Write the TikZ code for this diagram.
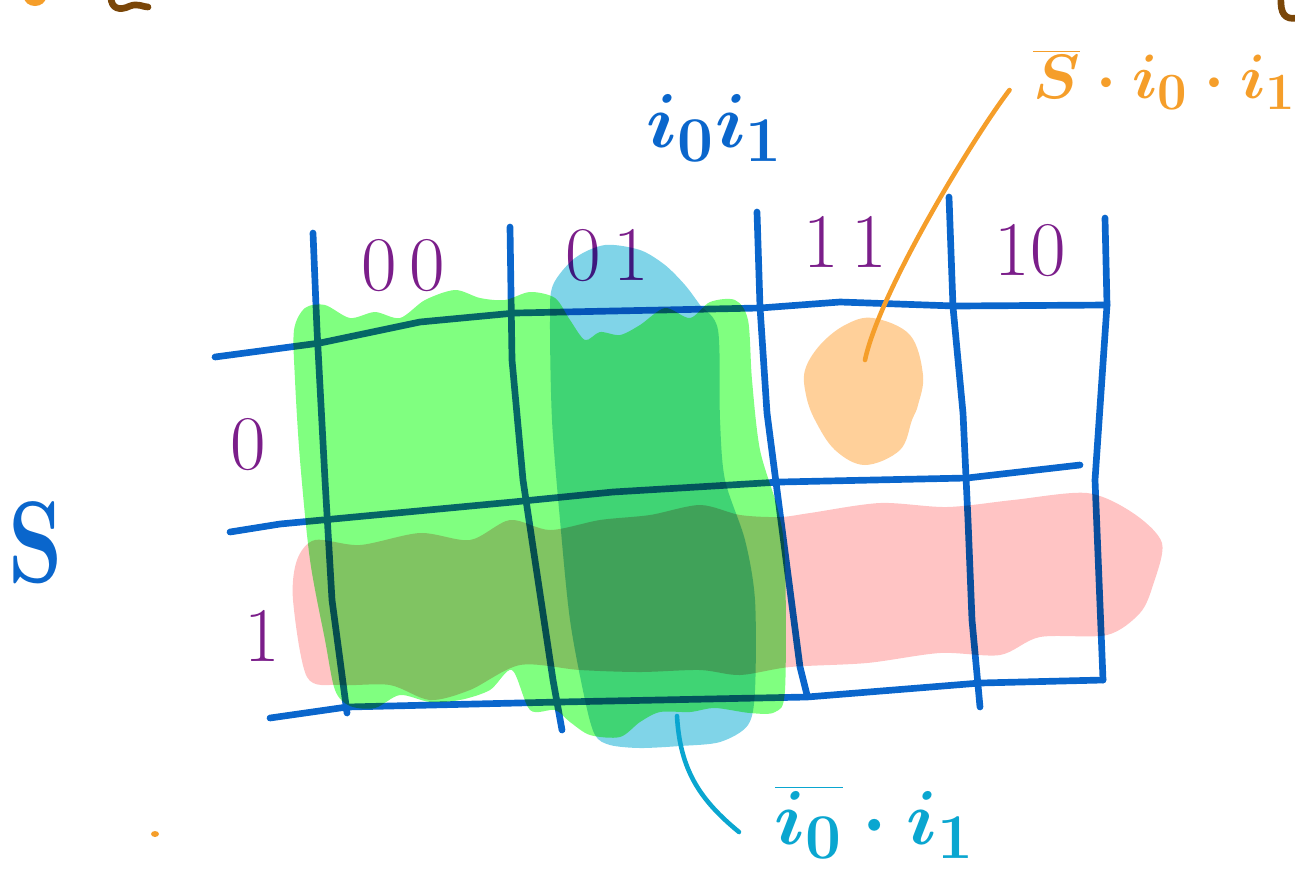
\documentclass[tikz,border=0pt]{standalone}
\usepackage{tikz}
\usetikzlibrary{positioning}
\definecolor{kmblue}{HTML}{0A66CC}
\definecolor{kmpurple}{HTML}{7B1E8A}
\definecolor{kmorange}{HTML}{F59E2A}
\definecolor{kmcyan}{HTML}{0AA6D0}
\definecolor{kmbrown}{HTML}{7A4608}
\definecolor{hlgreen}{HTML}{80FF80}
\definecolor{hlblue}{HTML}{80D4E8}
\definecolor{hlpink}{HTML}{FFC4C4}
\definecolor{hlorange}{HTML}{FFD09A}

\tikzset{
  gridline/.style={kmblue, line width=3.8pt},
  hdr/.style={text=kmpurple, font=\fontsize{44}{48}\selectfont},
  hand/.style={font=\Huge\boldmath, scale=1.75},
  blob/.style={blend mode=multiply},
}

\begin{document}
\begin{tikzpicture}[x=0.02cm, y=-0.02cm, line cap=round, line join=round]
    \useasboundingbox (0,0) rectangle (1295,894);
    % the map
    \draw[gridline] plot coordinates {(215,357) (320,343) (420,322) (515,313) (760,308) (840,302) (955,306) (1107,305)};
    \draw[gridline] plot coordinates {(230,532) (280,524) (513,502) (613,492) (780,482) (967,478) (1080,465)};
    \draw[gridline] plot coordinates {(270,718) (347,707) (560,702) (807,697) (980,683) (1103,680)};
    \draw[gridline] plot coordinates {(313,233) (317,330) (325,480) (332,600) (340,660) (347,713)};
    \draw[gridline] plot coordinates {(510,227) (512,360) (523,480) (533,547) (553,680) (562,730)};
    \draw[gridline] plot coordinates {(757,212) (760,307) (767,413) (777,490) (800,667) (807,695)};
    \draw[gridline] plot coordinates {(949,197) (953,307) (963,413) (968,520) (972,620) (980,707)};
    \draw[gridline] plot coordinates {(1105,218) (1107,305) (1095,480) (1103,680)};
    % labels
    \node[hdr] (c00) at (403,266) {0\,0};
    \node[hdr] (c01) at (607,256) {0\,1};
    \node[hdr] (c11) at (845,242) {1\,1};
    \node[hdr] (c10) at (1030,251) {10};
    \node[hdr] (r0) at (248,445) {0};
    \node[hdr] (r1) at (262,636) {1};
    \node[text=kmblue, font=\fontsize{66}{70}\selectfont\bfseries, xscale=0.75, inner sep=0pt] (svar) at (36,543) {S};
    \node[hand, text=kmblue] (ivar) at (715,128) {$i_0 i_1$};
    \node[hand, text=kmorange, scale=0.82] (orlbl) at (1165,80) {$\overline{S}\cdot i_0\cdot i_1$};
    \node[hand, text=kmcyan] (cylbl) at (875,822) {$\overline{i_0}\cdot i_1$};
    % loops
    \fill[hlgreen, blob] plot[smooth cycle, tension=0.5] coordinates {(294,330) (305,308) (325,305) (350,318) (375,312) (400,318) (425,300) (455,290) (480,298) (505,300) (530,292) (555,298) (570,320) (585,340) (600,332) (620,335) (640,325) (665,308) (690,318) (710,302) (735,300) (748,320) (752,380) (760,450) (778,510) (785,560) (785,690) (775,712) (750,713) (715,708) (690,712) (660,712) (640,722) (620,737) (590,735) (570,722) (555,710) (530,710) (512,670) (490,690) (460,700) (430,702) (400,695) (375,708) (350,706) (335,690) (325,640) (310,560) (300,460) (295,380)};
    \fill[hlblue, blob] plot[smooth cycle, tension=0.5] coordinates {(550,320) (553,285) (575,258) (605,245) (640,250) (665,265) (685,285) (700,305) (718,330) (720,420) (725,480) (745,540) (755,600) (755,690) (748,725) (720,742) (680,746) (640,748) (610,745) (595,735) (585,700) (570,620) (560,520) (552,420)};
    \fill[hlpink, blob] plot[smooth cycle, tension=0.5] coordinates {(293,600) (297,560) (315,540) (360,545) (420,533) (470,540) (510,520) (550,530) (600,520) (650,515) (700,505) (740,515) (780,517) (810,513) (880,503) (947,507) (1013,500) (1087,493) (1133,513) (1162,543) (1153,585) (1140,613) (1107,635) (1040,637) (1000,655) (940,653) (867,663) (790,667) (740,675) (700,670) (640,672) (580,670) (520,665) (470,690) (430,700) (390,685) (340,685) (307,677)};
    \fill[hlorange, blob] plot[smooth cycle, tension=0.6] coordinates {(873,318) (910,335) (923,375) (918,405) (912,420) (900,450) (865,465) (835,450) (815,420) (806,395) (805,370) (820,345) (845,325)};
    % leaders
    \coordinate (orpt) at (865,360);
    \coordinate (cypt) at (677,716);
    \draw[kmorange, line width=2.6pt] (orlbl.west) ++(-15,10) .. controls (975,135) and (880,290) .. (orpt);
    \draw[kmcyan, line width=2.6pt] (cylbl.west) ++(-25,10) .. controls (700,800) and (680,770) .. (cypt);
    % bits of other writing at the edges
    \fill[kmorange] (35,-3) ellipse (11 and 9);
    \fill[kmorange] (155,834) ellipse (4 and 3);
    \draw[kmbrown, line width=3.8pt] (111,-3) .. controls (111,9) and (120,11) .. (130,6) .. controls (138,3) and (143,7) .. (148,7);
    \draw[kmbrown, line width=3.8pt] (1281,-3) .. controls (1280,14) and (1285,20) .. (1297,18);
\end{tikzpicture}
\end{document}
